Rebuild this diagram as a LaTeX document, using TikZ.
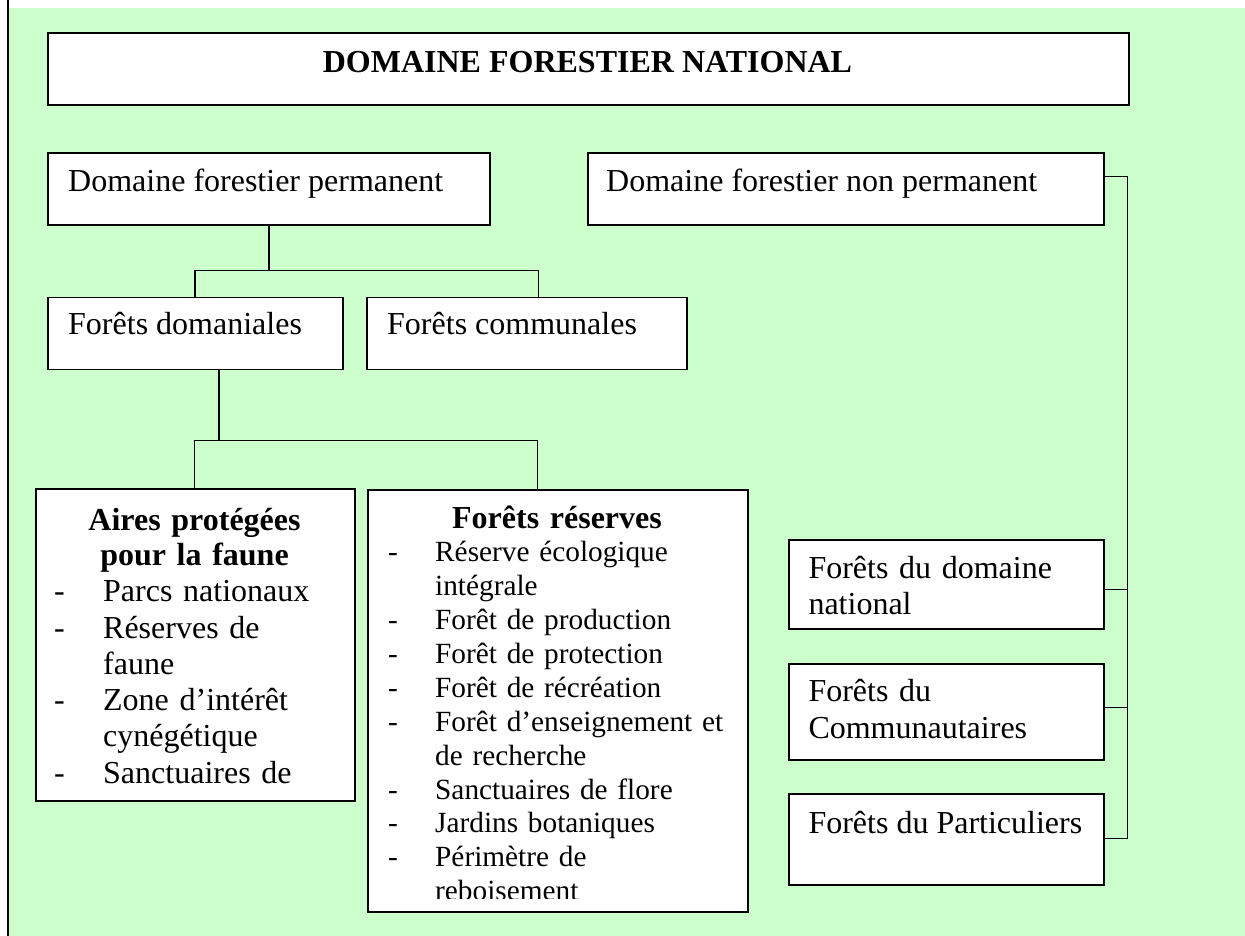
\documentclass[tikz,border=0pt]{standalone}
\usepackage{fontspec}
\setmainfont{Liberation Serif}
\definecolor{bggreen}{RGB}{204,255,204}
\newcommand\dashitemA[1]{\makebox[49pt][l]{-}#1}
\newcommand\contlineA[1]{\hspace*{49pt}#1}
\newcommand\dashitemB[1]{\makebox[47pt][l]{-}#1}
\newcommand\contlineB[1]{\hspace*{47pt}#1}
\tikzset{
  box/.style={draw=black, fill=white, line width=1.8pt, inner sep=0pt, anchor=north west, rectangle},
  conn/.style={draw=black, line width=1.5pt},
  txt/.style={inner sep=0pt, font=\fontsize{32}{36.5}\selectfont, anchor=base west},
  blocktxt/.style={txt, text width=#1, align=left},
  smalltxt/.style={inner sep=0pt, font=\fontsize{29.3}{33.9}\selectfont, anchor=base west, text width=#1, align=left},
  headtxt/.style={inner sep=0pt, font=\fontsize{32}{35.7}\selectfont\bfseries, anchor=base, text width=#1, align=center}
}
\begin{document}
\begin{tikzpicture}[x=1pt, y=-1pt]
\useasboundingbox (0,0) rectangle (1245,936);
% background
\fill[white] (0,0) rectangle (1245,936);
\fill[bggreen] (8,8) rectangle (1245,936);
\draw[line width=2.5pt] (8,0) -- (8,936);

% boxes
\node[box, minimum width=1081pt, minimum height=72pt] (title) at (47,32.3) {};
\node[box, minimum width=442.3pt, minimum height=72pt] (perm) at (47,152.3) {};
\node[box, minimum width=515.7pt, minimum height=72pt] (nonperm) at (587.3,152.3) {};
\node[box, minimum width=295pt, minimum height=72pt] (doman) at (47,296.5) {};
\node[box, minimum width=319.7pt, minimum height=72pt] (commun) at (366,296.5) {};
\node[box, minimum width=319pt, minimum height=312pt] (aires) at (35,488.3) {};
\node[box, minimum width=380.6pt, minimum height=421.7pt] (reserv) at (366.7,489) {};
\node[box, minimum width=315pt, minimum height=89.6pt] (fdn) at (787.7,538.7) {};
\node[box, minimum width=315pt, minimum height=95.4pt] (fcom) at (787.7,663.3) {};
\node[box, minimum width=315pt, minimum height=91pt] (fpart) at (787.7,793.3) {};

% texts
\node[txt, anchor=base, font=\fontsize{32}{36.5}\selectfont\bfseries] (titleT) at (587.5,72.7) {DOMAINE FORESTIER NATIONAL};
\node[txt] (permT) at (68,191.7) {Domaine forestier permanent};
\node[txt] (nonpermT) at (606,191.7) {Domaine forestier non permanent};
\node[txt] (domanT) at (68,334.6) {Forêts domaniales};
\node[txt] (communT) at (387,334.6) {Forêts communales};

\node[headtxt=300pt] (airesH) at (194.5,530) {Aires protégées\\pour la faune};
\node[blocktxt=290pt, font=\fontsize{32}{36.3}\selectfont] (airesL) at (54,601.7) {\dashitemA{Parcs nationaux}\\
\dashitemA{Réserves de}\\
\contlineA{faune}\\
\dashitemA{Zone d’intérêt}\\
\contlineA{cynégétique}\\
\dashitemA{Sanctuaires de}};

\node[headtxt=360pt] (reservH) at (557,528.3) {Forêts réserves};
\begin{scope}
\clip (366.7,489) rectangle (747.3,898);
\node[smalltxt=355pt] (reservL) at (388,561.7) {\dashitemB{Réserve écologique}\\
\contlineB{intégrale}\\
\dashitemB{Forêt de production}\\
\dashitemB{Forêt de protection}\\
\dashitemB{Forêt de récréation}\\
\dashitemB{Forêt d’enseignement et}\\
\contlineB{de recherche}\\
\dashitemB{Sanctuaires de flore}\\
\dashitemB{Jardins botaniques}\\
\dashitemB{Périmètre de}\\
\contlineB{reboisement}};
\end{scope}

\node[blocktxt=290pt, font=\fontsize{32}{36}\selectfont] (fdnT) at (808.3,578) {\makebox[273.4pt][s]{Forêts du domaine}\\national};
\node[blocktxt=290pt, font=\fontsize{32}{36.6}\selectfont] (fcomT) at (808.3,701.7) {Forêts du\\Communautaires};
\node[txt] (fpartT) at (808.3,833.3) {Forêts du Particuliers};

% connectors
\coordinate (j1L) at (195,270.7);
\coordinate (j1R) at (538.3,270.7);
\draw[conn] (perm.south) -- (perm.south |- j1L);
\draw[conn] (doman.north -| j1L) -- (j1L) -- (j1R) -- (commun.north -| j1R);

\coordinate (j2) at (219,440.7);
\coordinate (j2L) at (194.3,440.7);
\coordinate (j2R) at (537.7,440.7);
\draw[conn] (doman.south -| j2) -- (j2);
\draw[conn] (aires.north -| j2L) -- (j2L) -- (j2R) -- (reserv.north -| j2R);

\coordinate (r0) at (1127.7,176.7);
\coordinate (r1) at (1127.7,589.7);
\coordinate (r2) at (1127.7,707.7);
\coordinate (r3) at (1127.7,838.3);
\draw[conn] (nonperm.east |- r0) -- (r0) -- (r3) -- (fpart.east |- r3);
\draw[conn] (r1) -- (fdn.east |- r1);
\draw[conn] (r2) -- (fcom.east |- r2);
\end{tikzpicture}
\end{document}
